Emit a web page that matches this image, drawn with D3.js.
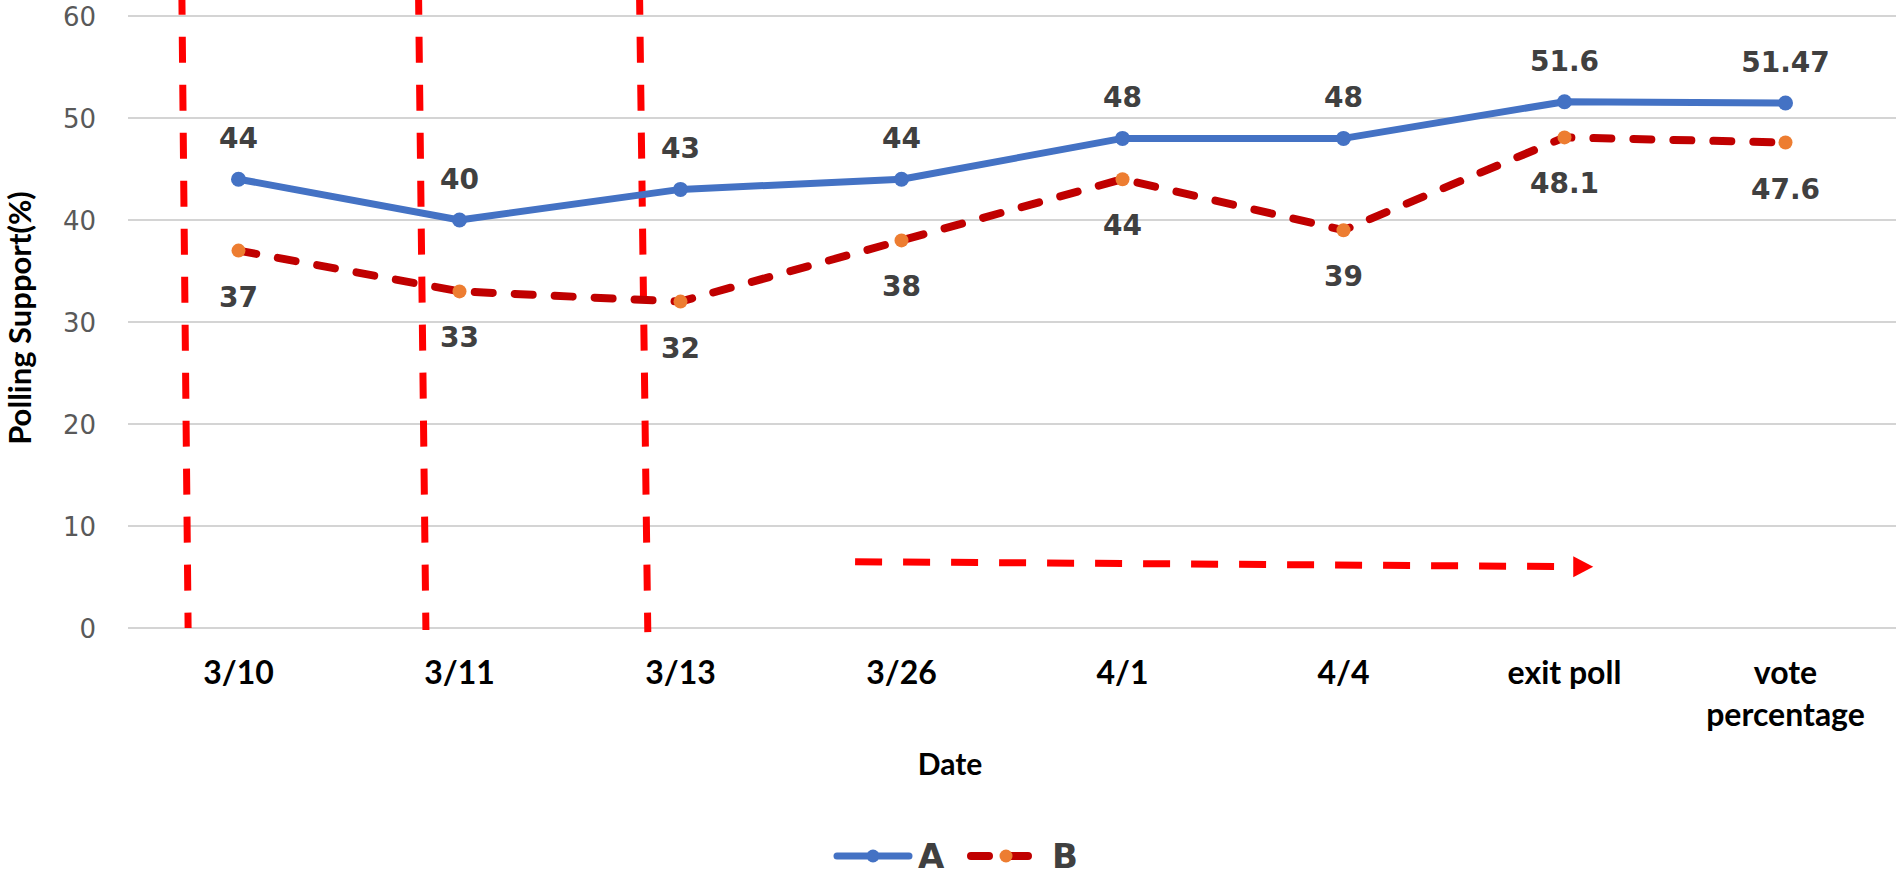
<!DOCTYPE html>
<html>
<head>
<meta charset="utf-8">
<script src="https://cdn.jsdelivr.net/npm/d3@7"></script>
<style>
  html, body { margin: 0; padding: 0; background: #ffffff; }
  svg { display: block; }
</style>
</head>
<body>
<svg id="chart" width="1900" height="877"></svg>
<script>
// ---- Data ----
const categories = ["3/10", "3/11", "3/13", "3/26", "4/1", "4/4", "exit poll", "vote percentage"];
const seriesA = [44, 40, 43, 44, 48, 48, 51.6, 51.47];
const seriesB = [37, 33, 32, 38, 44, 39, 48.1, 47.6];
const labelsA = ["44", "40", "43", "44", "48", "48", "51.6", "51.47"];
const labelsB = ["37", "33", "32", "38", "44", "39", "48.1", "47.6"];
const yTicks = [0, 10, 20, 30, 40, 50, 60];
const seriesNames = ["A", "B"];
const yTitle = "Polling Support(%)";
const xTitle = "Date";

// ---- Layout ----
const svg = d3.select("#chart");
const x = d3.scalePoint().domain(categories).range([128, 1896]).padding(0.5);
const step = x.step();
const y = d3.scaleLinear().domain([0, 60]).range([628, 16]);

const blue = "#4472C4", darkRed = "#C00000", orange = "#ED7D31", red = "#FF0000";

// Gridlines
svg.append("g").selectAll("line").data(yTicks).join("line")
  .attr("x1", 128).attr("x2", 1896)
  .attr("y1", d => y(d)).attr("y2", d => y(d))
  .attr("stroke", "#D4D4D4").attr("stroke-width", 2);

// Y axis via d3.axisLeft (labels only)
const yAxis = svg.append("g").attr("transform", "translate(96,0)")
  .call(d3.axisLeft(y).tickValues(yTicks).tickSize(0).tickPadding(0));
yAxis.select(".domain").remove();
yAxis.selectAll("text")
  .attr("font-family", "DejaVu Sans").attr("font-size", 26)
  .attr("fill", "#595959").attr("dy", "0.36em");

// X axis labels
const xLab = svg.append("g").selectAll("text").data(categories).join("text")
  .attr("x", d => x(d)).attr("y", 684)
  .attr("text-anchor", "middle")
  .attr("font-family", "Lato").attr("font-weight", "bold").attr("font-size", 32)
  .attr("fill", "#000");
xLab.each(function(d) {
  const words = d === "vote percentage" ? ["vote", "percentage"] : [d];
  d3.select(this).selectAll("tspan").data(words).join("tspan")
    .attr("x", x(d)).attr("dy", (w, i) => i === 0 ? 0 : 42).text(w => w);
});

// Axis titles
svg.append("text").attr("x", x("3/26") + step * 0.22).attr("y", 775)
  .attr("text-anchor", "middle")
  .attr("font-family", "Lato").attr("font-weight", "bold").attr("font-size", 30)
  .attr("fill", "#000").text(xTitle);
svg.append("text").attr("transform", "translate(31,318) rotate(-90)")
  .attr("text-anchor", "middle")
  .attr("font-family", "Lato").attr("font-weight", "bold").attr("font-size", 31)
  .attr("fill", "#000").text(yTitle);

// Annotation: vertical red dashed lines (slightly slanted), in band offsets
const vlines = [
  { cat: "3/10", top: -0.256, bottom: -0.228, bottomVal: 0 },
  { cat: "3/11", top: -0.185, bottom: -0.152, bottomVal: -0.2 },
  { cat: "3/13", top: -0.185, bottom: -0.148, bottomVal: -0.4 }
];
svg.append("g").selectAll("line").data(vlines).join("line")
  .attr("x1", d => x(d.cat) + d.top * step).attr("y1", y(61.6))
  .attr("x2", d => x(d.cat) + d.bottom * step).attr("y2", d => y(d.bottomVal))
  .attr("stroke", red).attr("stroke-width", 7)
  .attr("stroke-dasharray", "26,22").attr("stroke-dashoffset", 11);

// Annotation: horizontal dashed arrow
const ax1 = x("3/26") - 0.21 * step, ay1 = y(6.5);
const tipX = x("exit poll") + 0.13 * step, tipY = y(6.0);
const ax2 = tipX - 37;
svg.append("line").attr("x1", ax1).attr("y1", ay1).attr("x2", ax2).attr("y2", tipY - 0.3)
  .attr("stroke", red).attr("stroke-width", 7).attr("stroke-dasharray", "27,21");
svg.append("path")
  .attr("d", `M${tipX - 20},${tipY - 10.5} L${tipX},${tipY} L${tipX - 20},${tipY + 10.5} Z`)
  .attr("fill", red);

// Series B line (dashed)
const line = d3.line().x((d, i) => x(categories[i])).y(d => y(d));
svg.append("path").datum(seriesB).attr("d", line)
  .attr("fill", "none").attr("stroke", darkRed).attr("stroke-width", 8)
  .attr("stroke-linecap", "round").attr("stroke-linejoin", "round")
  .attr("stroke-dasharray", "18,22");
svg.append("g").selectAll("circle").data(seriesB).join("circle")
  .attr("cx", (d, i) => x(categories[i])).attr("cy", d => y(d)).attr("r", 7)
  .attr("fill", orange);

// Series A line (solid)
svg.append("path").datum(seriesA).attr("d", line)
  .attr("fill", "none").attr("stroke", blue).attr("stroke-width", 7)
  .attr("stroke-linecap", "round").attr("stroke-linejoin", "round");
svg.append("g").selectAll("circle").data(seriesA).join("circle")
  .attr("cx", (d, i) => x(categories[i])).attr("cy", d => y(d)).attr("r", 7.5)
  .attr("fill", blue);

// Data labels
svg.append("g").selectAll("text").data(seriesA).join("text")
  .attr("x", (d, i) => x(categories[i])).attr("y", d => y(d) - 41)
  .attr("dy", "0.36em").attr("text-anchor", "middle")
  .attr("font-family", "DejaVu Sans").attr("font-weight", "bold").attr("font-size", 28)
  .attr("fill", "#404040").text((d, i) => labelsA[i]);
svg.append("g").selectAll("text").data(seriesB).join("text")
  .attr("x", (d, i) => x(categories[i])).attr("y", d => y(d) + 46)
  .attr("dy", "0.36em").attr("text-anchor", "middle")
  .attr("font-family", "DejaVu Sans").attr("font-weight", "bold").attr("font-size", 28)
  .attr("fill", "#404040").text((d, i) => labelsB[i]);

// Legend
const lg = svg.append("g");
const ly = 856;
lg.append("line").attr("x1", 837).attr("x2", 909).attr("y1", ly).attr("y2", ly)
  .attr("stroke", blue).attr("stroke-width", 7).attr("stroke-linecap", "round");
lg.append("circle").attr("cx", 873).attr("cy", ly).attr("r", 6.5).attr("fill", blue);
lg.append("text").attr("x", 918).attr("y", ly).attr("dy", "0.36em")
  .attr("font-family", "DejaVu Sans").attr("font-weight", "bold").attr("font-size", 34)
  .attr("fill", "#404040").text(seriesNames[0]);
lg.append("line").attr("x1", 971).attr("x2", 1028).attr("y1", ly).attr("y2", ly)
  .attr("stroke", darkRed).attr("stroke-width", 8).attr("stroke-linecap", "round")
  .attr("stroke-dasharray", "18,22");
lg.append("circle").attr("cx", 1006).attr("cy", ly).attr("r", 6.5).attr("fill", orange);
lg.append("text").attr("x", 1052).attr("y", ly).attr("dy", "0.36em")
  .attr("font-family", "DejaVu Sans").attr("font-weight", "bold").attr("font-size", 34)
  .attr("fill", "#404040").text(seriesNames[1]);
</script>
</body>
</html>
